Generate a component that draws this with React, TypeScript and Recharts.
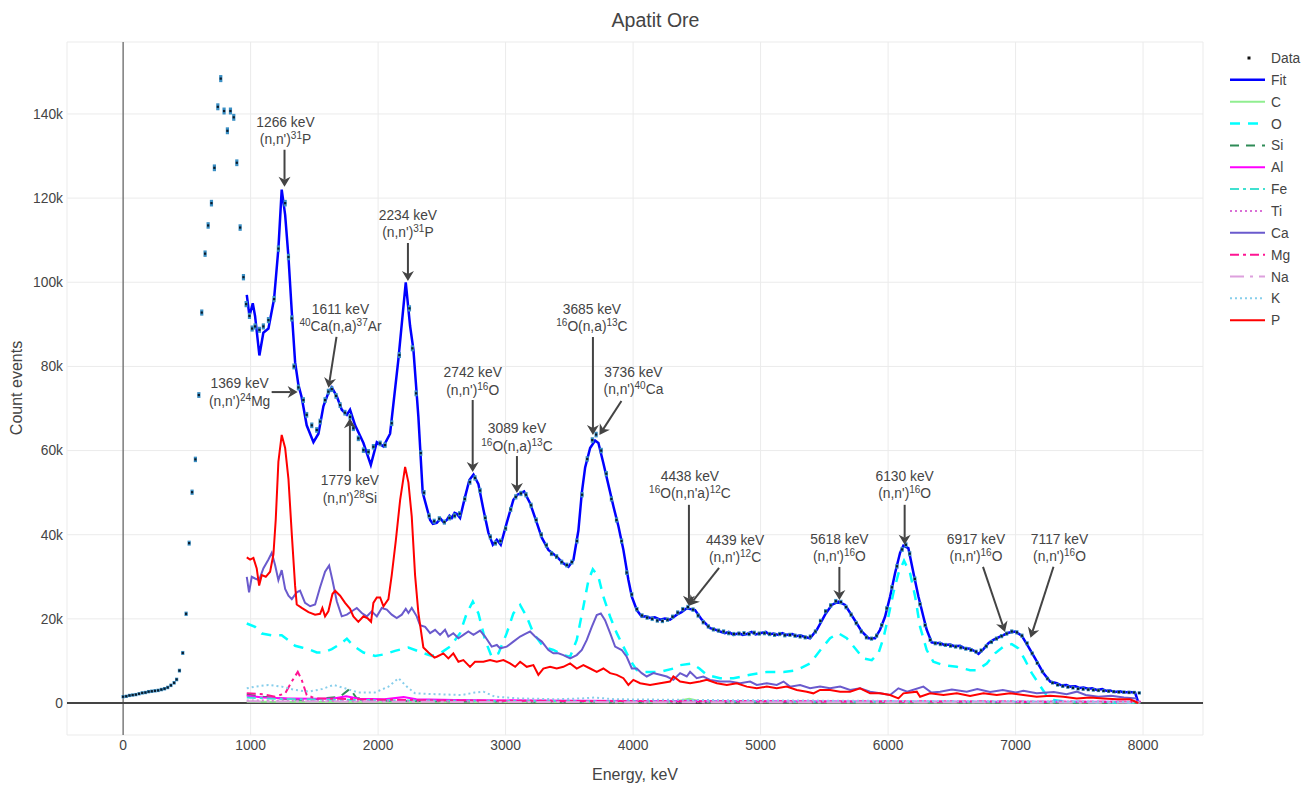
import React from "react";
import {
  ComposedChart,
  Line,
  Scatter,
  XAxis,
  YAxis,
  CartesianGrid,
  ReferenceLine,
  ReferenceDot,
} from "recharts";

// all values: [energy keV, counts in thousands]
const dataPts: [number, number][] = [
  [0, 1.5], [25, 1.6], [50, 1.8], [75, 1.9], [100, 2.0], [125, 2.2], [150, 2.4], [175, 2.5], [200, 2.7],
  [225, 2.8], [250, 2.9], [275, 3.0], [300, 3.2], [325, 3.4], [350, 3.7], [375, 4.2], [400, 4.8], [420, 5.6],
  [442, 7.7], [468, 11.9], [494, 21.2], [518, 38], [541, 50.1], [567, 57.9], [594, 73.2], [617, 92.8],
  [643, 106.8], [667, 113.5], [693, 118.8], [716, 127.2], [743, 141.7], [766, 148.4], [792, 140.7], [818, 136],
  [842, 140.7], [868, 139.2], [892, 128.4], [918, 113], [944, 101.2], [965, 94.8], [991, 92], [1012, 89],
  [1035, 89.5], [1069, 88.7], [1100, 89.5], [1140, 91], [1184, 96], [1218, 108], [1271, 118.8], [1297, 106],
  [1323, 91.4], [1340, 80], [1375, 75], [1414, 72], [1440, 68.5], [1480, 66], [1519, 64.9], [1545, 66.9],
  [1584, 72], [1610, 74], [1637, 74.6], [1670, 73], [1702, 70.8], [1740, 69], [1780, 68], [1806, 65.3],
  [1845, 62.9], [1885, 60.1], [1924, 59.7], [1963, 60.9], [2016, 61.7], [2055, 61.3], [2107, 66.5], [2167, 82.7],
  [2246, 93.8], [2269, 84.3], [2298, 73.6], [2335, 59.4], [2360, 50], [2400, 44.5], [2440, 43.2], [2480, 43.8],
  [2520, 43], [2560, 44], [2600, 44.5], [2640, 45], [2680, 48.5], [2720, 52.5], [2760, 53.5], [2800, 50.5],
  [2840, 44], [2880, 39.5], [2920, 38], [2960, 38.5], [3000, 41.5], [3040, 46], [3080, 49], [3120, 49.8],
  [3160, 49.5], [3200, 47], [3240, 43.5], [3280, 40], [3320, 37.5], [3360, 35.5], [3400, 34.8], [3440, 33.5],
  [3480, 32.8], [3520, 33.5], [3560, 38.5], [3600, 49.5], [3640, 58], [3680, 62.5], [3710, 63.8], [3750, 60],
  [3790, 54.5], [3830, 48.5], [3870, 43.5], [3910, 38.5], [3950, 31], [3990, 25.8], [4030, 22.3], [4070, 20.8],
  [4110, 20.3], [4150, 20], [4190, 19.6], [4230, 19.5], [4270, 19.8], [4310, 20.5], [4350, 21.5], [4390, 22.3],
  [4430, 22.8], [4470, 22.2], [4510, 20.8], [4550, 19.2], [4590, 18.2], [4630, 17.5], [4670, 17.2], [4710, 17],
  [4750, 16.6], [4790, 16.4], [4830, 16.5], [4870, 16.6], [4910, 16.4], [4950, 16.7], [4990, 16.5], [5030, 16.6],
  [5070, 16.4], [5110, 16.2], [5150, 16.4], [5190, 16.1], [5230, 16.2], [5270, 16], [5310, 15.8], [5350, 15.6],
  [5390, 15.8], [5430, 17], [5470, 19.5], [5510, 21.8], [5550, 23.2], [5590, 24.2], [5630, 24], [5670, 22.8],
  [5710, 21], [5750, 19], [5790, 17], [5830, 15.6], [5870, 15.3], [5910, 16], [5950, 18.5], [5990, 22.5],
  [6030, 27.5], [6070, 32.5], [6110, 36.5], [6140, 37.6], [6170, 35.5], [6210, 29.5], [6250, 23.5], [6290, 18.5],
  [6330, 15], [6370, 14.2], [6410, 14], [6450, 13.8], [6490, 13.6], [6530, 13.4], [6570, 13.2], [6610, 12.9],
  [6650, 12.6], [6690, 12.2], [6730, 12.5], [6770, 13.5], [6810, 14.5], [6850, 15.3], [6890, 15.9], [6930, 16.5],
  [6970, 17], [7010, 16.8], [7050, 16], [7090, 14.2], [7130, 11.8], [7170, 9.5], [7210, 7.5], [7250, 5.8],
  [7290, 4.8], [7330, 4.3], [7370, 4], [7410, 3.8], [7450, 3.6], [7490, 3.4], [7530, 3.3], [7570, 3.2],
  [7610, 3.1], [7650, 3], [7690, 2.9], [7730, 2.8], [7770, 2.7], [7810, 2.6], [7850, 2.6], [7890, 2.5],
  [7930, 2.5], [7970, 2.4],
];

const fitPts: [number, number][] = [
  [970, 97], [991, 92], [1017, 95], [1035, 92], [1069, 82.6], [1100, 88], [1140, 89], [1184, 96], [1218, 108],
  [1244, 122], [1271, 116], [1297, 106], [1323, 93], [1349, 81], [1375, 75.6], [1401, 72.6], [1440, 66],
  [1493, 62], [1532, 64], [1571, 70.5], [1610, 73.7], [1637, 75], [1676, 72.9], [1715, 69.7], [1755, 68.5],
  [1780, 69.7], [1820, 66], [1885, 61.8], [1943, 56.6], [1990, 62], [2042, 61], [2094, 64], [2159, 81.6],
  [2217, 100], [2251, 89.6], [2277, 84], [2316, 68], [2350, 50], [2408, 43.5], [2430, 42.6], [2460, 42.8],
  [2490, 43.8], [2515, 42.9], [2539, 43.5], [2560, 44.5], [2578, 44], [2600, 45.2], [2617, 45], [2643, 44],
  [2682, 49], [2716, 53], [2748, 54.3], [2787, 52], [2826, 46], [2865, 40.5], [2900, 37.6], [2931, 38.8],
  [2962, 37.6], [3009, 42.8], [3061, 48.3], [3093, 49.5], [3145, 50.3], [3192, 47.5], [3245, 42.8], [3284, 39.3],
  [3336, 36.4], [3401, 34.8], [3453, 33.2], [3493, 32.4], [3532, 34], [3571, 41], [3598, 50], [3624, 56],
  [3663, 60.6], [3702, 62.4], [3728, 61.8], [3767, 57], [3806, 51.9], [3846, 46.7], [3885, 42], [3924, 36.4],
  [3963, 29.3], [3990, 25.3], [4029, 22.1], [4068, 20.5], [4100, 20.6], [4133, 20.2], [4170, 20.4], [4212, 19.8],
  [4250, 20.1], [4290, 19.8], [4343, 21], [4380, 21.6], [4421, 22.5], [4486, 22.1], [4539, 19.8], [4604, 17.8],
  [4640, 17.5], [4682, 17], [4720, 16.6], [4750, 16.9], [4787, 16.2], [4830, 16.6], [4860, 16.2], [4892, 16.4],
  [4930, 16.9], [4960, 16.3], [4996, 16.6], [5040, 16.9], [5070, 16.3], [5100, 16.5], [5140, 16.2], [5170, 16.6],
  [5205, 16.2], [5250, 16.4], [5280, 15.9], [5310, 16.1], [5350, 15.7], [5388, 15.4], [5441, 17.4], [5506, 21],
  [5558, 23.3], [5610, 24.1], [5663, 23.3], [5728, 20.2], [5793, 17], [5846, 15.4], [5898, 15.4], [5937, 17.4],
  [5976, 20.5], [6016, 25.3], [6055, 30.9], [6094, 35.7], [6120, 37.4], [6159, 36.8], [6199, 30.9], [6238, 25.3],
  [6277, 20.5], [6303, 17.4], [6342, 14.4], [6380, 14.2], [6408, 14.3], [6440, 13.8], [6486, 13.9], [6520, 13.5],
  [6565, 13.6], [6600, 13], [6643, 12.9], [6680, 12.3], [6709, 11.7], [6748, 12.8], [6787, 14.2], [6826, 15],
  [6878, 15.8], [6944, 16.7], [6996, 17], [7048, 16], [7100, 13.4], [7153, 10.6], [7218, 7.1], [7271, 5.1],
  [7323, 4.7], [7360, 4.2], [7400, 4.3], [7427, 3.9], [7470, 4], [7500, 3.6], [7532, 3.7], [7570, 3.4],
  [7600, 3.5], [7637, 3.1], [7680, 3.3], [7710, 2.9], [7741, 3], [7780, 2.6], [7820, 2.8], [7846, 2.5],
  [7890, 2.6], [7937, 2.5], [7960, 0.4],
];

const pPts: [number, number][] = [
  [970, 34.6], [996, 34.1], [1022, 34.5], [1048, 32], [1067, 27.9], [1088, 30.4], [1119, 30], [1153, 31.2],
  [1179, 35.3], [1197, 43.5], [1218, 57.3], [1244, 63.7], [1271, 60.6], [1297, 53.2], [1323, 40.2], [1349, 27.9],
  [1362, 23.4], [1401, 22.6], [1454, 21.6], [1506, 21], [1545, 21.2], [1563, 22.6], [1584, 20.6], [1610, 21.8],
  [1642, 25.9], [1663, 26.7], [1702, 25.5], [1741, 23.8], [1780, 22.4], [1806, 20.6], [1845, 19.3], [1885, 20.6],
  [1919, 20.1], [1945, 19.3], [1963, 23.8], [1990, 25.1], [2016, 25.1], [2042, 23], [2081, 24.7], [2107, 30.4],
  [2139, 38.6], [2173, 48.3], [2212, 56.1], [2238, 52.4], [2264, 44.3], [2290, 30.4], [2316, 21.4], [2355, 13.2],
  [2395, 12], [2442, 10.8], [2460, 11], [2512, 11.8], [2551, 10.6], [2590, 11.8], [2630, 9.8], [2669, 10.2],
  [2721, 8.6], [2760, 9.8], [2826, 9.8], [2878, 10.2], [2931, 9.8], [2983, 10.2], [3035, 9.4], [3075, 8.6],
  [3114, 9.8], [3166, 8.6], [3218, 9], [3257, 6.7], [3296, 8.2], [3349, 8.6], [3401, 8.2], [3453, 8.6],
  [3506, 9.4], [3558, 8.2], [3610, 9], [3663, 8.2], [3715, 7.4], [3767, 8.2], [3820, 7.1], [3872, 6.7],
  [3924, 5.9], [3963, 4.3], [4002, 5.5], [4055, 4.7], [4133, 4.3], [4212, 4.7], [4290, 5.1], [4316, 6.3],
  [4369, 5.1], [4447, 4.7], [4525, 5.1], [4578, 5.5], [4657, 4.7], [4735, 4.3], [4813, 4.7], [4892, 3.9],
  [4970, 3.5], [5049, 3.9], [5127, 3.5], [5205, 3.9], [5284, 3.1], [5362, 2.7], [5414, 2.3], [5467, 3.1],
  [5545, 3.1], [5624, 2.7], [5702, 2.7], [5780, 3.5], [5859, 2.3], [5937, 2.3], [6016, 1.9], [6081, 1.1],
  [6120, 2.3], [6225, 2.7], [6251, 1.5], [6329, 2.3], [6434, 1.9], [6539, 2.3], [6643, 1.7], [6748, 2.3],
  [6852, 1.9], [6957, 2.3], [7061, 1.9], [7166, 1.5], [7271, 1.7], [7375, 1.5], [7480, 1.1], [7584, 1.3],
  [7689, 1.1], [7794, 0.9], [7898, 0.9], [7963, 0],
];

const caPts: [number, number][] = [
  [970, 30], [988, 26.3], [1009, 30], [1035, 29.6], [1067, 29.2], [1100, 32], [1140, 34.1], [1166, 35.7],
  [1192, 32.8], [1218, 29.2], [1244, 31.6], [1271, 27.1], [1297, 25.5], [1323, 24.7], [1362, 26.3], [1388, 26.7],
  [1427, 23.8], [1467, 23], [1506, 23.4], [1545, 27.5], [1584, 31.2], [1616, 32.7], [1642, 29.2], [1676, 24.2],
  [1715, 20.6], [1755, 21], [1794, 21.8], [1833, 22.6], [1872, 21.4], [1911, 20.6], [1950, 21.8], [1990, 20.6],
  [2029, 22.6], [2068, 22.2], [2107, 21], [2146, 20.2], [2186, 21], [2217, 22.4], [2238, 21.4], [2264, 22.6],
  [2303, 20.6], [2329, 18.5], [2369, 18.1], [2408, 16.6], [2447, 17.4], [2486, 16.2], [2525, 17.4], [2551, 15.8],
  [2590, 16.6], [2630, 15.4], [2669, 16.2], [2708, 17], [2748, 16.2], [2800, 17.2], [2839, 15.8], [2891, 13.4],
  [2931, 13.8], [2957, 13], [3009, 13.4], [3061, 14.6], [3114, 15.8], [3166, 16.6], [3192, 17], [3231, 15.8],
  [3284, 14.6], [3336, 12.6], [3375, 11.8], [3414, 11.8], [3453, 11.4], [3506, 10.6], [3558, 11.4], [3598, 12.6],
  [3637, 15], [3676, 18.1], [3715, 20.9], [3747, 21.3], [3780, 19.7], [3820, 16.6], [3859, 13.4], [3911, 12.6],
  [3950, 11], [3990, 8.2], [4029, 8.2], [4068, 7.1], [4107, 6.3], [4159, 7.1], [4212, 6.7], [4264, 6.3],
  [4316, 5.5], [4369, 7.1], [4421, 6.3], [4447, 7.4], [4499, 5.9], [4551, 6.3], [4604, 5.5], [4682, 5.1],
  [4761, 5.1], [4839, 4.7], [4918, 5.1], [4970, 4.3], [5049, 4.7], [5127, 4.3], [5180, 5.1], [5231, 3.9],
  [5310, 4.3], [5388, 3.5], [5467, 3.9], [5545, 3.5], [5624, 3.9], [5702, 3.1], [5780, 3.5], [5859, 2.7],
  [5937, 2.3], [6016, 1.9], [6081, 3.5], [6150, 2.7], [6277, 3.9], [6340, 2.5], [6408, 2.7], [6500, 3.2],
  [6617, 2.7], [6700, 3.3], [6800, 2.6], [6900, 3.1], [7000, 2.5], [7061, 2.9], [7166, 2.3], [7300, 2.6],
  [7400, 2.1], [7480, 2.7], [7550, 1.9], [7650, 1.5], [7750, 1.7], [7850, 1.3], [7950, 1.1],
];

const oPts: [number, number][] = [
  [970, 18.9], [1035, 18.1], [1088, 16.5], [1166, 16.1], [1244, 16.1], [1297, 14.9], [1349, 13.6], [1401, 13.2],
  [1454, 12.8], [1519, 12], [1571, 12], [1637, 12.8], [1702, 14], [1755, 15.3], [1806, 13.6], [1885, 12],
  [1976, 11.2], [2055, 11.6], [2133, 12.4], [2238, 13.2], [2342, 12], [2421, 11.2], [2486, 11.8], [2565, 13.4],
  [2643, 16.6], [2695, 21.3], [2743, 24.1], [2787, 21.3], [2839, 15], [2891, 11], [2944, 11.8], [3009, 16.6],
  [3061, 21.3], [3114, 23.3], [3166, 20.5], [3218, 16.6], [3296, 13.4], [3375, 12.6], [3453, 11.4], [3506, 11],
  [3558, 15], [3610, 22.9], [3650, 29.2], [3684, 31.8], [3728, 30], [3767, 25.3], [3820, 20.5], [3872, 16.6],
  [3924, 13.4], [3977, 10.2], [4029, 7.8], [4094, 7.4], [4212, 7.4], [4316, 8.2], [4369, 9], [4460, 9.4],
  [4520, 8.2], [4578, 6.7], [4682, 5.9], [4787, 5.9], [4918, 6.7], [5049, 7.4], [5180, 7.4], [5284, 7.8],
  [5388, 9.4], [5480, 13], [5545, 15.4], [5610, 16.6], [5676, 15.4], [5741, 13], [5806, 10.6], [5872, 10.2],
  [5924, 11.8], [5963, 15.4], [6002, 20.5], [6041, 26.1], [6081, 30.8], [6125, 33.8], [6173, 30.8], [6212, 25.3],
  [6251, 18.1], [6303, 12.6], [6355, 9.8], [6434, 9], [6539, 8.6], [6643, 7.8], [6695, 7.8], [6774, 9.4],
  [6839, 11.8], [6905, 13.4], [6970, 14], [7022, 13], [7075, 10.2], [7127, 7.1], [7179, 4.7], [7232, 2.3],
  [7297, 0.7], [7400, 0.3], [7600, 0.2], [7800, 0.15], [7980, 0.1],
];

const kPts: [number, number][] = [
  [970, 3.5], [1035, 3.9], [1140, 4.3], [1244, 3.9], [1349, 3.1], [1454, 2.7], [1558, 3.3], [1650, 4.3],
  [1741, 3.5], [1845, 2.5], [1976, 2.5], [2081, 3.9], [2160, 5.9], [2225, 3.9], [2290, 2.3], [2447, 2.1],
  [2656, 1.9], [2760, 2.5], [2826, 2.7], [2918, 1.5], [3100, 1.1], [3400, 0.9], [3600, 1.1], [3700, 1.3],
  [3850, 0.9], [4200, 0.8], [4600, 0.7], [5200, 0.6], [6000, 0.5], [7000, 0.4], [7980, 0.3],
];
const mgPts: [number, number][] = [
  [970, 2.3], [1100, 2.1], [1192, 1.5], [1271, 2.3], [1323, 5.1], [1370, 7.4], [1401, 5.5], [1440, 1.9],
  [1506, 1.1], [1700, 1.0], [2000, 0.8], [2500, 0.6], [3500, 0.5], [5000, 0.4], [7980, 0.3],
];
const alPts: [number, number][] = [
  [970, 1.7], [1100, 1.3], [1300, 1.1], [1500, 1.0], [1650, 1.1], [1750, 1.6], [1850, 1.0], [2050, 0.9],
  [2200, 1.4], [2300, 0.9], [2600, 0.7], [3200, 0.6], [4000, 0.5], [5000, 0.4], [6000, 0.35], [7980, 0.3],
];
const siPts: [number, number][] = [
  [970, 2.0], [1100, 1.5], [1300, 0.9], [1450, 0.7], [1600, 1.2], [1700, 1.5], [1780, 3.4], [1830, 1.2],
  [2000, 0.6], [2500, 0.4], [3500, 0.3], [5000, 0.2], [7980, 0.1],
];
const cPts: [number, number][] = [
  [970, 0.3], [2000, 0.2], [4300, 0.2], [4440, 1.0], [4560, 0.2], [6000, 0.1], [7980, 0.1],
];
const fePts: [number, number][] = [
  [970, 1.3], [1200, 1.0], [1600, 0.8], [2200, 0.6], [3000, 0.5], [4000, 0.4], [5500, 0.3], [7000, 0.3], [7980, 0.2],
];
const tiPts: [number, number][] = [[970, 0.6], [2000, 0.4], [4000, 0.3], [6000, 0.3], [7980, 0.2]];
const naPts: [number, number][] = [[970, 0.4], [2000, 0.3], [4000, 0.2], [6000, 0.2], [7980, 0.1]];

const xTicks = [0, 1000, 2000, 3000, 4000, 5000, 6000, 7000, 8000];
const yTicks = [0, 20000, 40000, 60000, 80000, 100000, 120000, 140000];

const toRows = (pts: [number, number][]) => pts.map(([x, k]) => ({ x, y: k * 1000 }));

const series = [
  { name: "Fit", pts: fitPts, color: "#0000ff", width: 2.5, dash: undefined },
  { name: "C", pts: cPts, color: "#90ee90", width: 2, dash: undefined },
  { name: "O", pts: oPts, color: "#00ffff", width: 2.5, dash: "10 8" },
  { name: "Si", pts: siPts, color: "#2e8b57", width: 2, dash: "9 7" },
  { name: "Al", pts: alPts, color: "#ff00ff", width: 2, dash: undefined },
  { name: "Fe", pts: fePts, color: "#40e0d0", width: 2, dash: "9 4 3 4" },
  { name: "Ti", pts: tiPts, color: "#da70d6", width: 2, dash: "2 3" },
  { name: "Ca", pts: caPts, color: "#6a5acd", width: 2, dash: undefined },
  { name: "Mg", pts: mgPts, color: "#ff1493", width: 2, dash: "9 4 3 4" },
  { name: "Na", pts: naPts, color: "#dda0dd", width: 2, dash: "14 6 3 6" },
  { name: "K", pts: kPts, color: "#87ceeb", width: 2, dash: "2 3" },
  { name: "P", pts: pPts, color: "#ff0000", width: 2, dash: undefined },
];

const annotations = [
  { x: 1266, y: 122700, top: "1266 keV", bot: "(n,n')^31^P", dx: 1, dy: -56, sx: 0, sy: -37 },
  { x: 2234, y: 100300, top: "2234 keV", bot: "(n,n')^31^P", dx: 0, dy: -57, sx: 0, sy: -38 },
  { x: 1611, y: 74900, top: "1611 keV", bot: "^40^Ca(n,a)^37^Ar", dx: 12, dy: -70, sx: 8, sy: -51 },
  { x: 1369, y: 73900, top: "1369 keV", bot: "(n,n')^24^Mg", dx: -58, dy: 0, sx: -26, sy: 0 },
  { x: 1779, y: 67700, top: "1779 keV", bot: "(n,n')^28^Si", dx: 0, dy: 71, sx: 0, sy: 53 },
  { x: 2742, y: 54900, top: "2742 keV", bot: "(n,n')^16^O", dx: 0, dy: -91, sx: 0, sy: -72 },
  { x: 3089, y: 49900, top: "3089 keV", bot: "^16^O(n,a)^13^C", dx: 0, dy: -56, sx: 0, sy: -37 },
  { x: 3685, y: 63700, top: "3685 keV", bot: "^16^O(n,a)^13^C", dx: -1, dy: -117, sx: 0, sy: -98 },
  { x: 3736, y: 63700, top: "3736 keV", bot: "(n,n')^40^Ca", dx: 34, dy: -54, sx: 22, sy: -34 },
  { x: 4438, y: 23100, top: "4438 keV", bot: "^16^O(n,n'a)^12^C", dx: 1, dy: -121, sx: 0, sy: -101 },
  { x: 4439, y: 23100, top: "4439 keV", bot: "(n,n')^12^C", dx: 46, dy: -57, sx: 30, sy: -38 },
  { x: 5618, y: 24500, top: "5618 keV", bot: "(n,n')^16^O", dx: 0, dy: -52, sx: 0, sy: -33 },
  { x: 6130, y: 37600, top: "6130 keV", bot: "(n,n')^16^O", dx: 0, dy: -60, sx: 0, sy: -40 },
  { x: 6917, y: 16900, top: "6917 keV", bot: "(n,n')^16^O", dx: -29, dy: -84, sx: -22, sy: -65 },
  { x: 7117, y: 15500, top: "7117 keV", bot: "(n,n')^16^O", dx: 29, dy: -90, sx: 23, sy: -71 },
];

const FONT = "'Liberation Sans', Arial, sans-serif";
const TXT = "#444";
const FS = 13.8;

function RichLine({ s, x, y }: { s: string; x: number; y: number }) {
  const parts = s.split("^");
  return (
    <text x={x} y={y} textAnchor="middle" fontSize={FS} fill={TXT} fontFamily={FONT}>
      {parts.map((p, i) =>
        i % 2 === 1 ? (
          <tspan key={i} fontSize={10} dy={-5}>{p}</tspan>
        ) : (
          <tspan key={i} dy={i === 0 ? 0 : 5}>{p}</tspan>
        )
      )}
    </text>
  );
}

function Annotation({ cx, cy, a }: any) {
  if (cx == null || cy == null) return null;
  const tx = cx + a.dx;
  const ty = cy + a.dy;
  const x0 = cx + a.sx;
  const y0 = cy + a.sy;
  const len = Math.hypot(cx - x0, cy - y0) || 1;
  const ux = (cx - x0) / len;
  const uy = (cy - y0) / len;
  const nx = -uy;
  const ny = ux;
  const L = 10;
  const w = 6;
  const bx = cx - ux * L;
  const by = cy - uy * L;
  const notchX = cx - ux * (L - 3);
  const notchY = cy - uy * (L - 3);
  return (
    <g>
      <line x1={x0} y1={y0} x2={notchX} y2={notchY} stroke={TXT} strokeWidth={2} />
      <polygon
        points={`${cx},${cy} ${bx + nx * w},${by + ny * w} ${notchX},${notchY} ${bx - nx * w},${by - ny * w}`}
        fill={TXT}
      />
      <RichLine s={a.top} x={tx} y={ty - 4} />
      <RichLine s={a.bot} x={tx} y={ty + 13.5} />
    </g>
  );
}

function DataDot(props: any) {
  const { cx, cy, payload } = props;
  if (cx == null || cy == null) return null;
  const h = 0.8 + Math.sqrt(payload.y) / 180;
  return (
    <g>
      <rect x={cx - 1.6} y={cy - h - 0.6} width={3.2} height={2 * h + 1.2} fill="#3a8fc4" />
      <rect x={cx - 1.1} y={cy - 1.1} width={2.2} height={2.2} fill="#0a1a2a" />
    </g>
  );
}

function LegendBox() {
  const items = [{ name: "Data", color: "#000", width: 0, dash: undefined as any }, ...series];
  return (
    <svg width={95} height={290} style={{ position: "absolute", left: 1220, top: 45, overflow: "visible" }}>
      {items.map((it, i) => {
        const y = 13 + i * 21.85;
        return (
          <g key={it.name}>
            {it.name === "Data" ? (
              <rect x={27.5} y={y - 1.5} width={3} height={3} fill="#111" />
            ) : (
              <line x1={10} x2={45} y1={y} y2={y} stroke={it.color} strokeWidth={it.width} strokeDasharray={it.dash} />
            )}
            <text x={51} y={y + 5} fontSize={FS} fill={TXT} fontFamily={FONT}>
              {it.name}
            </text>
          </g>
        );
      })}
    </svg>
  );
}

const fmtY = (v: number) => (v === 0 ? "0" : `${v / 1000}k`);

export default function App() {
  return (
    <div style={{ position: "absolute", left: 0, top: 0, width: 1311, height: 787, background: "#fff", fontFamily: FONT }}>
      <ComposedChart width={1311} height={787} margin={{ top: 42, right: 108, bottom: 22, left: 7 }}>
        <CartesianGrid stroke="#ebebeb" strokeWidth={1} />
        <XAxis
          dataKey="x"
          type="number"
          domain={[-440, 8470]}
          allowDataOverflow
          ticks={xTicks}
          height={30}
          axisLine={false}
          tickLine={false}
          tickSize={0}
          tickMargin={5}
          tick={{ fontSize: FS, fill: TXT, fontFamily: FONT }}
        />
        <YAxis
          type="number"
          domain={[-7600, 157100]}
          allowDataOverflow
          ticks={yTicks}
          width={60}
          axisLine={false}
          tickLine={false}
          tickSize={0}
          tickMargin={4}
          tickFormatter={fmtY}
          tick={{ fontSize: FS, fill: TXT, fontFamily: FONT }}
        />
        <ReferenceLine x={0} stroke={TXT} strokeWidth={1} />
        <ReferenceLine y={0} stroke={TXT} strokeWidth={2} />
        <Scatter data={toRows(dataPts)} dataKey="y" name="Data" shape={DataDot} isAnimationActive={false} />
        {series.map((s) => (
          <Line
            key={s.name}
            data={toRows(s.pts)}
            dataKey="y"
            name={s.name}
            type="linear"
            stroke={s.color}
            strokeWidth={s.width}
            strokeDasharray={s.dash}
            dot={false}
            activeDot={false}
            isAnimationActive={false}
          />
        ))}
        {annotations.map((a) => (
          <ReferenceDot
            key={a.top}
            x={a.x}
            y={a.y}
            r={0}
            ifOverflow="visible"
            shape={(p: any) => <Annotation cx={p.cx} cy={p.cy} a={a} />}
          />
        ))}
      </ComposedChart>
      <div style={{ position: "absolute", left: 0, top: 8, width: 1311, textAlign: "center", fontSize: 19.5, color: TXT, lineHeight: "24px" }}>
        Apatit Ore
      </div>
      <div style={{ position: "absolute", left: 67, top: 764, width: 1136, textAlign: "center", fontSize: 16, color: TXT, lineHeight: "22px" }}>
        Energy, keV
      </div>
      <div
        style={{
          position: "absolute",
          left: 17,
          top: 388,
          transform: "translate(-50%, -50%) rotate(-90deg)",
          whiteSpace: "nowrap",
          fontSize: 16,
          color: TXT,
        }}
      >
        Count events
      </div>
      <LegendBox />
    </div>
  );
}
